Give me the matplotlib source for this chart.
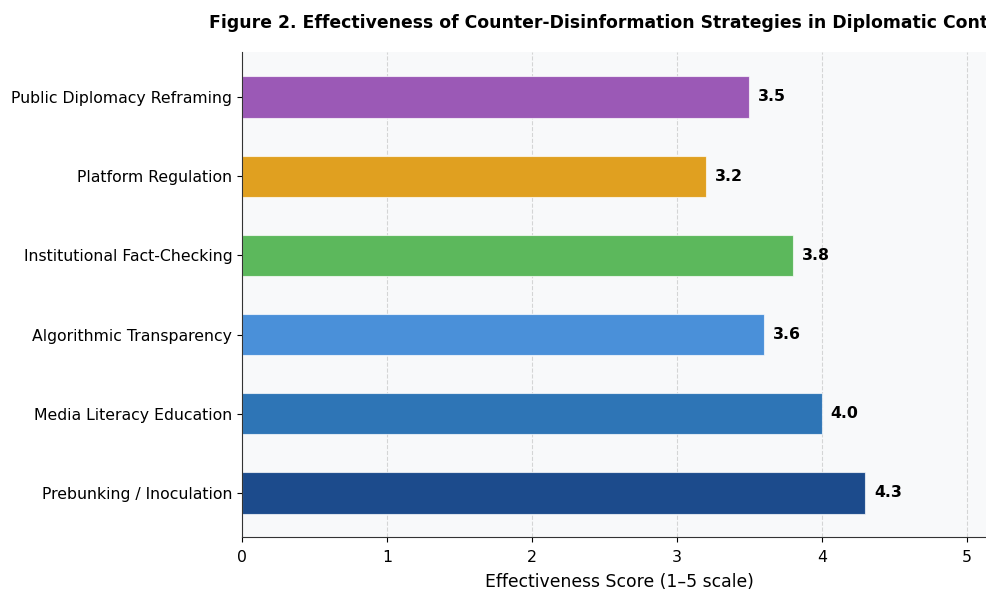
import matplotlib
matplotlib.use("Agg")
import matplotlib.pyplot as plt

# Strategies, bottom to top
strategies = [
    "Prebunking / Inoculation",
    "Media Literacy Education",
    "Algorithmic Transparency",
    "Institutional Fact-Checking",
    "Platform Regulation",
    "Public Diplomacy Reframing",
]
scores = [4.3, 4.0, 3.6, 3.8, 3.2, 3.5]
colors = ["#1c4b8c", "#2e75b6", "#4a90d9", "#5cb85c", "#e0a020", "#9b59b6"]

plt.rcParams['font.family'] = ['DejaVu Sans']

fig = plt.figure(figsize=(9.86, 5.9), dpi=100)
ax = fig.add_axes([0.2454, 0.0898, 0.7647, 0.8221])
ax.set_facecolor("#f8f9fa")

bars = ax.barh(
    strategies,
    scores,
    height=0.52,
    color=colors,
    edgecolor="#ffffffb0",
    linewidth=0.8,
    zorder=2
)

for bar, val in zip(bars, scores):
    ax.text(
        bar.get_width() + 0.06,
        bar.get_y() + bar.get_height() / 2,
        f"{val:.1f}",
        va="center",
        ha="left",
        fontsize=11.3,
        fontweight="bold"
    )

ax.set_xlim(0, 5.2)
ax.set_ylim(-0.556, 5.568)
ax.set_xticks([0, 1, 2, 3, 4, 5])
ax.set_xlabel("Effectiveness Score (1–5 scale)", fontsize=12.4, labelpad=6)
ax.tick_params(axis="both", labelsize=11.3)
ax.tick_params(axis="x", pad=5.5)

ax.grid(axis="x", linestyle="--", color="#cccccc", alpha=0.8, zorder=0)
ax.set_axisbelow(True)

ax.spines["top"].set_visible(False)
ax.spines["right"].set_visible(False)
ax.spines["left"].set_zorder(3)
ax.spines["bottom"].set_zorder(3)
ax.spines["left"].set_color("#333333")
ax.spines["bottom"].set_color("#333333")

ax.set_title(
    "Figure 2. Effectiveness of Counter-Disinformation Strategies in Diplomatic Contexts",
    fontsize=12.4,
    fontweight="bold",
    pad=17
)

fig.savefig("out.png", dpi=100)
